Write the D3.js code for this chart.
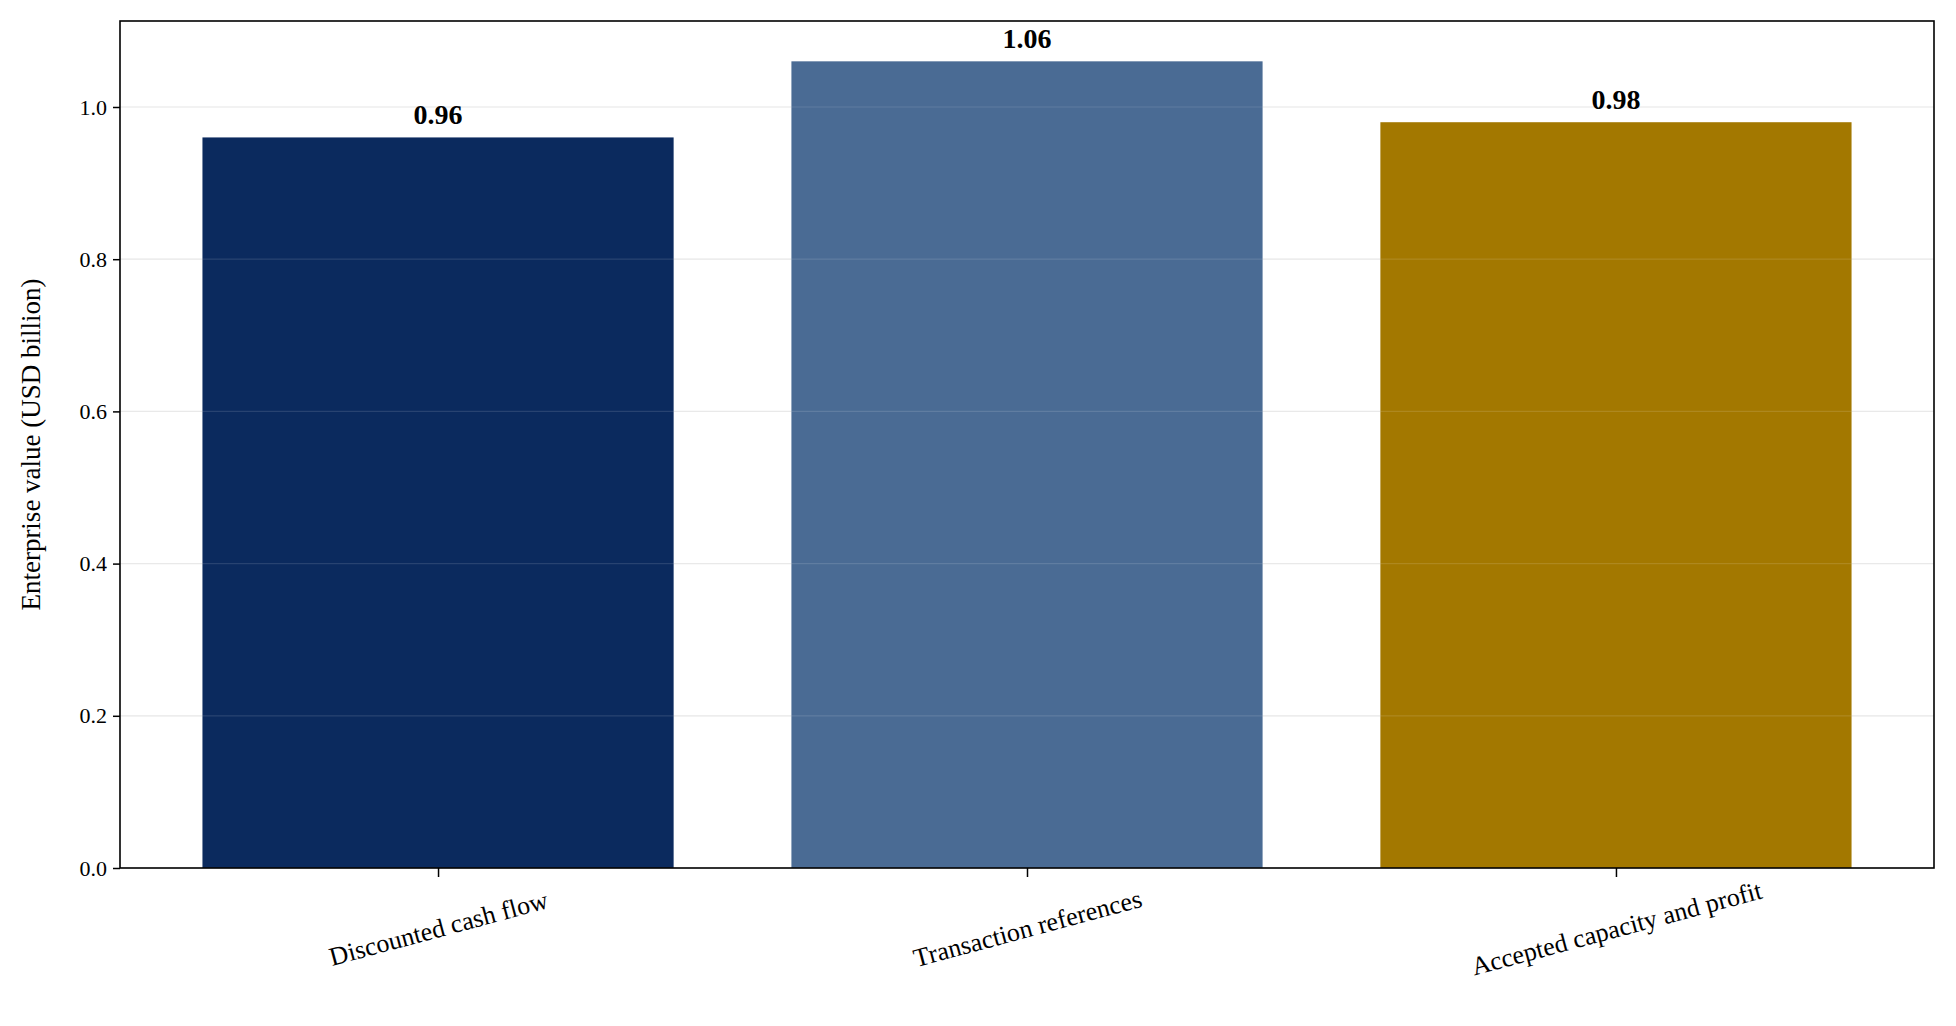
<!DOCTYPE html><html><head><meta charset="utf-8">
<script src="https://cdn.jsdelivr.net/npm/d3@7"></script>
<style>body{margin:0;background:#fff}text{font-family:"Liberation Serif","Times New Roman",serif}</style></head><body>
<svg id="c" width="1956" height="1026"></svg>
<script>
const categories=["Discounted cash flow","Transaction references","Accepted capacity and profit"];
const values=[0.96,1.06,0.98];
const colors=["#0b2a5e","#4a6b94","#a37800"];
const yTicks=[0,0.2,0.4,0.6,0.8,1.0];
const yLabel="Enterprise value (USD billion)";
const L=120,R=1934,T=21,B=868;
const svg=d3.select("#c");
const x=d3.scaleLinear().domain([-0.54,2.54]).range([L,R]);
const y=d3.scaleLinear().domain([0,1.113]).range([B,T]);
const g=svg.append("g");
g.selectAll("line.grid").data(yTicks).join("line").attr("x1",L).attr("x2",R)
 .attr("y1",d=>y(d)).attr("y2",d=>y(d)).attr("stroke","#e6e6e6").attr("stroke-width",1.2);
g.selectAll("rect").data(values).join("rect").attr("x",(d,i)=>x(i-0.4)).attr("width",x(0.8)-x(0))
 .attr("y",d=>y(d)).attr("height",d=>B-y(d)).attr("fill",(d,i)=>colors[i]);
g.selectAll("line.grid2").data(yTicks).join("line").attr("x1",L).attr("x2",R)
 .attr("y1",d=>y(d)).attr("y2",d=>y(d)).attr("stroke","#ffffff").attr("stroke-opacity",0.12).attr("stroke-width",1.2);
g.selectAll("text.v").data(values).join("text").attr("x",(d,i)=>x(i)).attr("y",d=>y(d)-13)
 .attr("text-anchor","middle").attr("font-weight","bold").attr("font-size",28).text(d=>d.toFixed(2));
const ya=svg.append("g").attr("transform",`translate(${L},0)`).call(d3.axisLeft(y).tickValues(yTicks).tickFormat(d3.format(".1f")).tickSize(7).tickPadding(6));
const xa=svg.append("g").attr("transform",`translate(0,${B})`).call(d3.axisBottom(x).tickValues([0,1,2]).tickFormat(i=>categories[i]).tickSize(9));
[ya,xa].forEach(a=>{a.select(".domain").remove();a.selectAll("text").attr("font-size",22).attr("fill","#000");a.selectAll("line").attr("stroke","#000").attr("stroke-width",1.5);});
xa.selectAll("text").attr("font-size",26).attr("text-anchor","middle").attr("x",0).attr("y",0).attr("dy","0.35em")
 .attr("transform","translate(0,60) rotate(-15)");
svg.append("rect").attr("x",L).attr("y",T).attr("width",R-L).attr("height",B-T).attr("fill","none").attr("stroke","#000").attr("stroke-width",1.6);
svg.append("text").attr("transform",`translate(40,${(T+B)/2}) rotate(-90)`).attr("text-anchor","middle").attr("font-size",27).text(yLabel);
</script></body></html>
